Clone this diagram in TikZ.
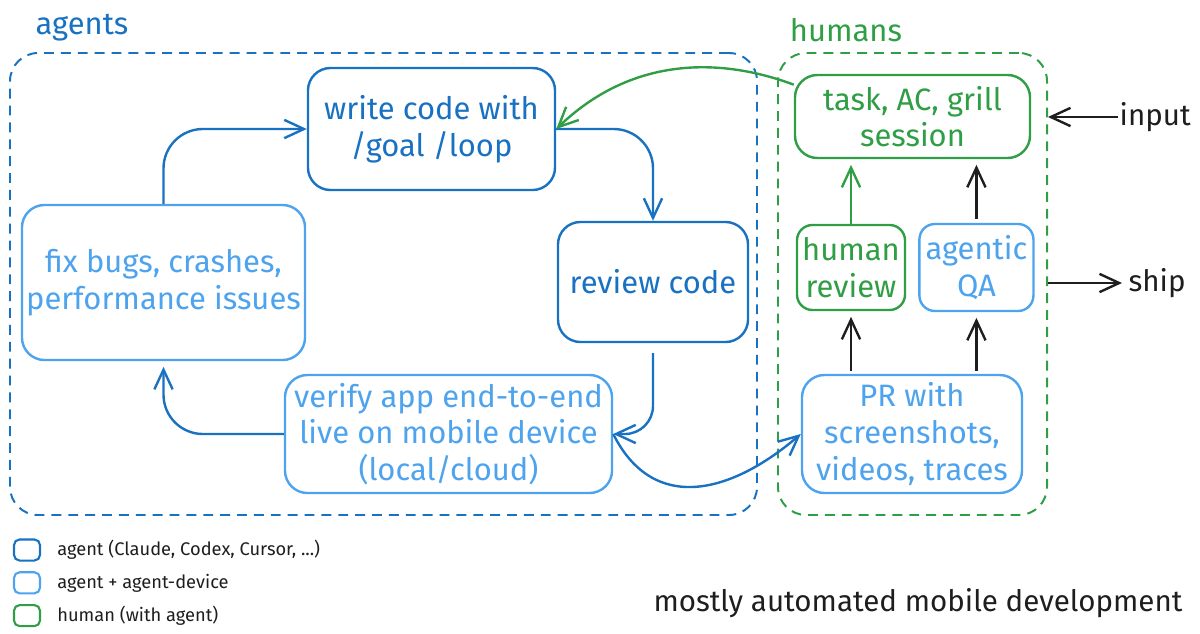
\documentclass[tikz,border=0pt]{standalone}
\usepackage{fontspec}
\setmainfont{Fira Sans}
\usetikzlibrary{arrows.meta,positioning,fit,backgrounds}
\definecolor{agtclr}{HTML}{1971C2}
\definecolor{devclr}{HTML}{4DA3EE}
\definecolor{humclr}{HTML}{2F9E44}
\definecolor{inkclr}{HTML}{1E1E1E}
\tikzset{
  blk/.style={rectangle,rounded corners=16pt,line width=1.7pt,fill=white,
    font=\fontsize{22}{26}\selectfont,align=center,inner sep=2pt},
  agblk/.style={blk,draw=agtclr,text=agtclr},
  dvblk/.style={blk,draw=devclr,text=devclr},
  hmblk/.style={blk,draw=humclr,text=humclr},
  smblk/.style={rounded corners=11pt},
  grpbox/.style={rectangle,rounded corners=20pt,dash pattern=on 7pt off 5pt,
    line width=1.4pt,inner sep=0pt},
  grplbl/.style={font=\fontsize{22}{26}\selectfont},
  arr/.style={-{Straight Barb[length=14pt,width=13pt]},line width=1.7pt,color=agtclr},
  garr/.style={arr,color=humclr},
  karr/.style={arr,color=inkclr},
  sidelbl/.style={font=\fontsize{21}{24}\selectfont,text=inkclr,anchor=west,inner sep=1pt},
  keybox/.style={rectangle,rounded corners=4pt,line width=1.5pt,
    minimum width=18.5pt,minimum height=15pt,inner sep=0pt},
  keylbl/.style={font=\fontsize{13}{16}\selectfont,text=inkclr,anchor=west,inner sep=0pt},
}

\begin{document}
\begin{tikzpicture}[x=0.025cm,y=-0.025cm]
  \useasboundingbox (0,0) rectangle (1200,633);
  % agent loop
  \node[agblk,minimum width=6.175cm,minimum height=3.05cm] (wrt) at (431.5,129) {write code with\\/goal /loop};
  \node[dvblk,minimum width=7.075cm,minimum height=3.875cm] (fix) at (163.5,282.5) {fix bugs, crashes,\\performance issues};
  \node[agblk,minimum width=4.75cm,minimum height=3cm] (rev) at (653,282) {review code};
  \node[dvblk,minimum width=8.175cm,minimum height=2.95cm] (ver) at (448.5,434) {verify app end-to-end\\live on mobile device\\(local/cloud)};
  % human side
  \node[hmblk,minimum width=5.875cm,minimum height=2.075cm] (task) at (912.5,116.5) {task, AC, grill\\session};
  \node[hmblk,smblk,minimum width=2.7cm,minimum height=2.125cm] (hrv) at (851,267.5) {human\\review};
  \node[dvblk,smblk,minimum width=2.85cm,minimum height=2.175cm,right=0.3cm of hrv] (aqa) {agentic\\QA};
  \node[dvblk,minimum width=5.5cm,minimum height=2.95cm] (pr) at (912,434) {PR with\\screenshots,\\videos, traces};

  \coordinate (agtl) at (10,53);  \coordinate (agbr) at (757,515);
  \coordinate (hmtl) at (778,53); \coordinate (hmbr) at (1047,515);
  \begin{scope}[on background layer]
    \node[grpbox,draw=agtclr,fit=(agtl)(agbr)] (agents) {};
    \node[grpbox,draw=humclr,fit=(hmtl)(hmbr)] (humans) {};
  \end{scope}
  \node[grplbl,text=agtclr] (agtlbl) at (82,28) {agents};
  \node[grplbl,text=humclr] (humlbl) at (846,30) {humans};

  \draw[arr,rounded corners=28pt] (fix.north) |- (wrt.west);
  \draw[arr,rounded corners=28pt] (wrt.east) -| (rev.north);
  \draw[arr,rounded corners=20pt,shorten <=7pt] (rev.south) |- (ver.east);
  \draw[arr,rounded corners=28pt,shorten >=4pt] (ver.west) -| (fix.south);
  \draw[arr] (ver.east) .. controls +(40,80) and +(-70,60) .. (pr.west);
  \draw[garr] (task.165) .. controls +(-75,-28) and +(75,-72) .. (wrt.east);
  \draw[garr,shorten >=4pt] (hrv.north) -- (hrv.north |- task.south);
  \draw[karr,shorten >=4pt,shorten <=3pt] (aqa.north) -- (aqa.north |- task.south);
  \draw[karr,shorten >=4pt,shorten <=2pt] (hrv.south |- pr.north) -- (hrv.south);
  \draw[karr,shorten >=4pt,shorten <=2pt] (aqa.south |- pr.north) -- (aqa.south);

  % in and out
  \node[sidelbl] (inp) at (1118,117) {input};
  \node[sidelbl,inner sep=4.5pt] (shp) at (1122,283) {ship};
  \draw[karr] (inp.west) -- (humans.east |- inp.west);
  \draw[karr] (humans.east |- shp.west) -- (shp.west);

  % legend
  \node[keybox,draw=agtclr] (k1) at (27,550) {};
  \node[keybox,draw=devclr,below=0.24cm of k1] (k2) {};
  \node[keybox,draw=humclr,below=0.24cm of k2] (k3) {};
  \node[keylbl,right=0.4cm of k1] (kl1) {agent (Claude, Codex, Cursor, ...)};
  \node[keylbl,right=0.4cm of k2] (kl2) {agent + agent-device};
  \node[keylbl,right=0.4cm of k3] (kl3) {human (with agent)};

  \node[font=\fontsize{21}{26}\selectfont,text=inkclr] (ttl) at (918,603) {mostly automated mobile development};
\end{tikzpicture}
\end{document}
